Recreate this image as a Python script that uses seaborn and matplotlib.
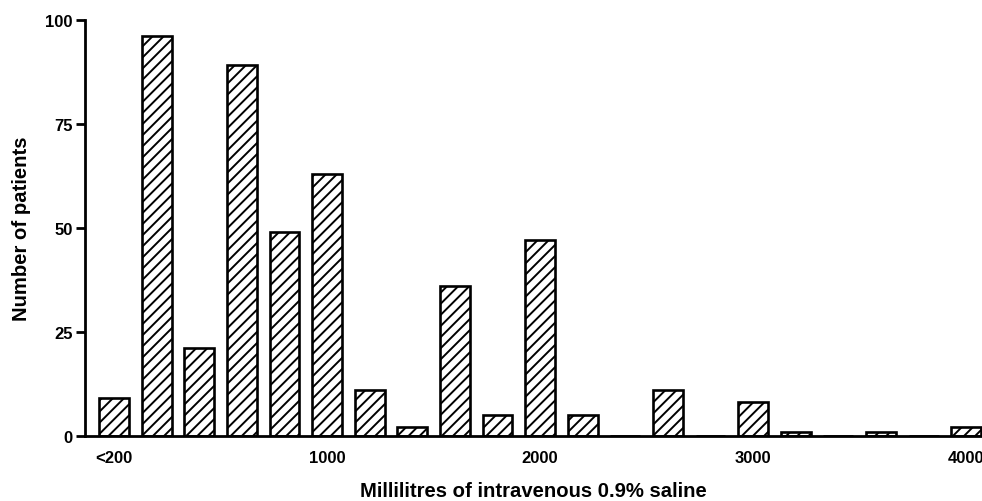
import pandas as pd
import matplotlib.pyplot as plt
import seaborn as sns

# bins of 200 ml, counts
bin_start = [0, 200, 400, 600, 800, 1000, 1200, 1400, 1600, 1800, 2000,
             2200, 2400, 2600, 2800, 3000, 3200, 3400, 3600, 3800, 4000]
patients = [9, 96, 21, 89, 49, 63, 11, 2, 36, 5, 47,
            5, 0, 11, 0, 8, 1, 0, 1, 0, 2]
tick_pos = [0, 5, 10, 15, 20]
tick_labels = ['<200', '1000', '2000', '3000', '4000']

sns.set_style('ticks')
plt.rcParams['font.family'] = ['Liberation Sans', 'DejaVu Sans']
plt.rcParams['font.weight'] = 'bold'
plt.rcParams['text.color'] = 'black'
plt.rcParams['axes.labelcolor'] = 'black'
plt.rcParams['xtick.color'] = 'black'
plt.rcParams['ytick.color'] = 'black'
plt.rcParams['axes.edgecolor'] = 'black'
plt.rcParams['hatch.linewidth'] = 1.4

df = pd.DataFrame({'ml': bin_start, 'n': patients})

fig = plt.figure(figsize=(9.82, 5.02), dpi=100)
ax = fig.add_axes([0.0866, 0.130, 0.9134, 0.8288])

sns.barplot(data=df, x='ml', y='n', color='white', edgecolor='black',
            linewidth=1.9, width=0.7, saturation=1, ax=ax)
for p in ax.patches:
    p.set_hatch('///')
    p.set_facecolor('white')

ax.set_xlim(-0.68, 20.37)
ax.set_ylim(0, 100)
ax.set_yticks([0, 25, 50, 75, 100])
ax.set_xticks(tick_pos)
ax.set_xticklabels(tick_labels)
ax.tick_params(axis='x', length=0, pad=10.5, labelsize=12)
ax.tick_params(axis='y', length=6.5, width=2, pad=2.4, labelsize=12)
for lab in ax.get_xticklabels() + ax.get_yticklabels():
    lab.set_fontweight('bold')

for s in ['left', 'bottom']:
    ax.spines[s].set_linewidth(2)
sns.despine(ax=ax)

ax.set_xlabel('Millilitres of intravenous 0.9% saline', fontsize=14.6, fontweight='bold', labelpad=11)
ax.set_ylabel('Number of patients', fontsize=14.6, fontweight='bold', labelpad=10)

fig.savefig('out.png', dpi=100)
